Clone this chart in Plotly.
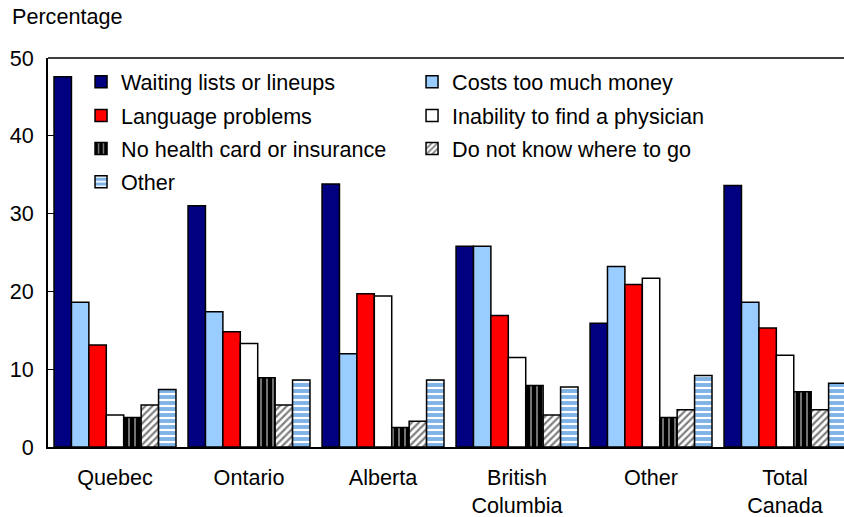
import plotly.graph_objects as go

categories = ["Quebec", "Ontario", "Alberta", "British<br>Columbia", "Other", "Total<br>Canada"]
series_names = [
    "Waiting lists or lineups",
    "Costs too much money",
    "Language problems",
    "Inability to find a physician",
    "No health card or insurance",
    "Do not know where to go",
    "Other",
]
waiting = [47.6, 31.0, 33.8, 25.8, 15.9, 33.6]
costs = [18.6, 17.4, 12.0, 25.8, 23.2, 18.6]
language = [13.1, 14.8, 19.7, 16.9, 20.9, 15.3]
inability = [4.1, 13.3, 19.4, 11.5, 21.7, 11.8]
no_card = [3.8, 8.9, 2.5, 7.9, 3.8, 7.1]
dont_know = [5.4, 5.4, 3.3, 4.1, 4.8, 4.8]
other = [7.4, 8.6, 8.6, 7.7, 9.2, 8.2]
y_ticks = [0, 10, 20, 30, 40, 50]

values = [waiting, costs, language, inability, no_card, dont_know, other]
styles = [
    dict(color="#000080"),
    dict(color="#99CCFF"),
    dict(color="#FF0000"),
    dict(color="#FFFFFF"),
    dict(color="#000000", pattern=dict(shape="|", fgcolor="#FFFFFF", size=6, solidity=0.3)),
    dict(color="#FFFFFF", pattern=dict(shape="/", fgcolor="#000000", size=5, solidity=0.45)),
    dict(color="#FFFFFF", pattern=dict(shape="-", fgcolor="#0066CC", size=6, solidity=0.65)),
]
legend_ids = ["legend", "legend", "legend2", "legend2", "legend3", "legend3", "legend4"]
legend_rows_y = [0.938, 0.851, 0.766, 0.681]

font_family = "Liberation Sans, Arial, sans-serif"
fs = 21.6
fig = go.Figure()
for name, vals, st, lg in zip(series_names, values, styles, legend_ids):
    fig.add_trace(go.Bar(
        x=categories, y=vals, name=name, legend=lg,
        marker=dict(line=dict(color="#000000", width=1.5), **st),
    ))

def legend_cfg(yv):
    return dict(
        orientation="h", x=0.0415, y=yv, xanchor="left", yanchor="middle",
        entrywidth=286, entrywidthmode="pixels",
        font=dict(size=fs, family=font_family, color="#000000"),
        bgcolor="rgba(0,0,0,0)", itemwidth=30, borderwidth=0,
    )

fig.update_layout(
    width=844, height=517,
    margin=dict(l=48, r=0, t=58, b=70),
    paper_bgcolor="white", plot_bgcolor="white",
    barmode="group", bargap=0.09, bargroupgap=0,
    font=dict(family=font_family, size=fs, color="#000000"),
    legend=legend_cfg(legend_rows_y[0]),
    legend2=legend_cfg(legend_rows_y[1]),
    legend3=legend_cfg(legend_rows_y[2]),
    legend4=legend_cfg(legend_rows_y[3]),
    xaxis=dict(
        range=[-0.5, 5.44], showline=True, linecolor="#000000", linewidth=2,
        ticks="", showgrid=False, tickfont=dict(size=fs), ticklabelstandoff=10,
    ),
    yaxis=dict(
        range=[0, 50], tickvals=y_ticks, showline=True, linecolor="#000000", linewidth=2,
        ticks="inside", ticklen=6, tickcolor="#000000", showgrid=False, zeroline=False,
        tickfont=dict(size=fs), ticklabelstandoff=8,
    ),
    showlegend=True,
)
fig.add_shape(type="line", xref="paper", yref="paper", x0=0, x1=1, y0=1, y1=1,
              line=dict(color="#000000", width=1.5))
fig.add_annotation(text="Percentage", xref="paper", yref="paper", x=-0.0477, y=1.0,
                   xanchor="left", yanchor="middle", yshift=42, showarrow=False,
                   font=dict(size=fs))
fig.write_html(
    "out.html",
    config={"displayModeBar": False},
    post_script="document.body.style.margin='0';document.body.style.overflow='hidden';",
)
